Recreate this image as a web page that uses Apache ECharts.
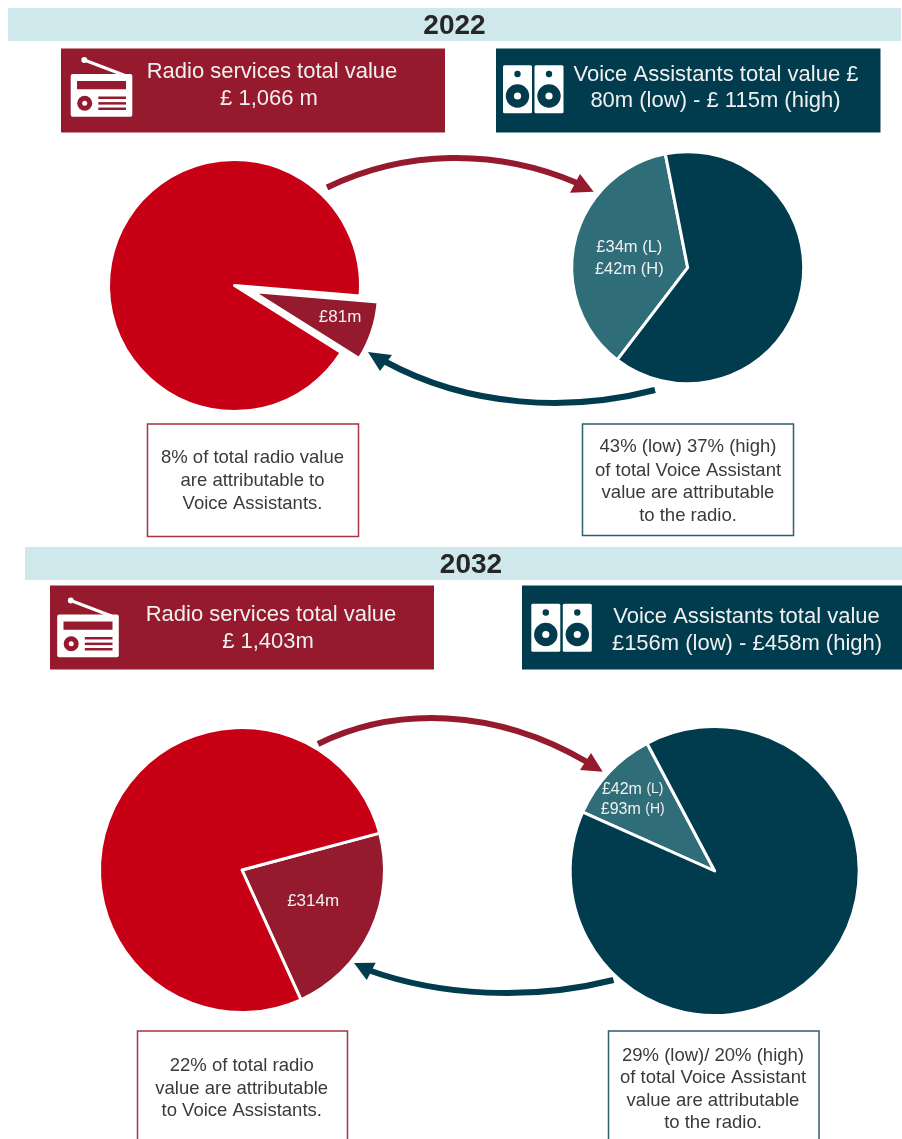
<!DOCTYPE html>
<html>
<head>
<meta charset="utf-8">
<title>Radio and Voice Assistants value, 2022 and 2032</title>
<script src="https://cdn.jsdelivr.net/npm/echarts@6/dist/echarts.min.js"></script>
<style>
  html, body { margin: 0; padding: 0; background: #fff; }
  #chart { width: 902px; height: 1139px; }
</style>
</head>
<body>
<div id="chart"></div>
<script>
// Slice values in £m: the attributable share, then the rest of the total.
const sliceNames = ['Attributable', 'Remainder'];
const radio2022 = [81, 985];
const voice2022 = [42, 73];
const radio2032 = [314, 1089];
const voice2032 = [42, 355];

const radio2022Label = '£81m';
const voice2022Label = '£34m (L)\n£42m (H)';
const radio2032Label = '£314m';
const voice2032Label = '£42m {s|(L)}\n£93m {s|(H)}';

const years = ['2022', '2032'];
const radioHeader2022 = ['Radio services total value', '£ 1,066 m'];
const voiceHeader2022 = ['Voice Assistants total value £', '80m (low) - £ 115m (high)'];
const radioHeader2032 = ['Radio services total value', '£ 1,403m'];
const voiceHeader2032 = ['Voice Assistants total value', '£156m (low) - £458m (high)'];

const radioNote2022 = ['8% of total radio value', 'are attributable to', 'Voice Assistants.'];
const voiceNote2022 = ['43% (low) 37% (high)', 'of total Voice Assistant', 'value are attributable', 'to the radio.'];
const radioNote2032 = ['22% of total radio', 'value are attributable', 'to Voice Assistants.'];
const voiceNote2032 = ['29% (low)/ 20% (high)', 'of total Voice Assistant', 'value are attributable', 'to the radio.'];

const RED = '#c80016', WINE = '#951a2d', NAVY = '#003c4e', TEAL = '#2f6d79', BAND = '#cfe8ec';
const FONT = '"Liberation Sans", Arial, sans-serif';

function pie(values, label, opts) {
  const [a, b] = values;
  return {
    type: 'pie',
    center: opts.center,
    radius: opts.radius,
    startAngle: opts.startAngle,
    clockwise: true,
    animation: false,
    silent: true,
    selectedMode: opts.offset ? 'single' : false,
    selectedOffset: opts.offset || 0,
    labelLayout: { dx: opts.dx || 0, dy: opts.dy || 0 },
    labelLine: { show: false },
    itemStyle: { borderColor: '#fff', borderWidth: 3 },
    data: [
      {
        name: sliceNames[0], value: a, selected: !!opts.offset,
        itemStyle: { color: opts.sliceColor },
        select: { itemStyle: { color: opts.sliceColor, borderColor: '#fff', borderWidth: 3 } },
        label: {
          show: true, position: 'inside', formatter: label, color: '#f1f1f1',
          fontFamily: FONT, fontSize: opts.fontSize, lineHeight: opts.lineHeight,
          rich: { s: { fontSize: 14, fontFamily: FONT, color: '#f1f1f1' } }
        }
      },
      {
        name: sliceNames[1], value: b,
        itemStyle: { color: opts.restColor },
        label: { show: false }
      }
    ]
  };
}

const g = [];
const rect = (x, y, w, h, fill, extra) =>
  g.push(Object.assign({ type: 'rect', shape: { x, y, width: w, height: h }, style: { fill }, silent: true }, extra));
const circle = (cx, cy, r, fill) =>
  g.push({ type: 'circle', shape: { cx, cy, r }, style: { fill }, silent: true });
const text = (str, x, y, font, fill) =>
  g.push({ type: 'text', silent: true, style: { text: str, x, y, font, fill, textAlign: 'center', textVerticalAlign: 'middle' } });

function band(x, y, w, h, year, tx, ty) {
  rect(x, y, w, h, BAND);
  text(year, tx, ty, 'bold 28px ' + FONT, '#262626');
}

function header(x, y, w, h, fill, lines, positions) {
  rect(x, y, w, h, fill);
  lines.forEach((l, i) => text(l, positions[i][0], positions[i][1], '22px ' + FONT, '#f0f0f0'));
}

function note(x, y, w, h, stroke, lines, cx, ys) {
  rect(x, y, w, h, '#fff', { style: { fill: '#fff', stroke, lineWidth: 1.5 } });
  lines.forEach((l, i) => text(l, cx, ys[i], '18.5px ' + FONT, '#3a3a3a'));
}

function radioIcon(dx, dy, bg) {
  g.push({ type: 'line', silent: true, shape: { x1: 84.3 + dx, y1: 60 + dy, x2: 125 + dx, y2: 75.5 + dy }, style: { stroke: '#fff', lineWidth: 3 } });
  circle(84.3 + dx, 60 + dy, 3, '#fff');
  rect(70.7 + dx, 74 + dy, 61.6, 42.7, '#fff', { shape: { x: 70.7 + dx, y: 74 + dy, width: 61.6, height: 42.7, r: 2 } });
  rect(77 + dx, 81 + dy, 49, 8.3, bg);
  circle(84.7 + dx, 103.3 + dy, 7.5, bg);
  circle(84.7 + dx, 103.3 + dy, 2.5, '#fff');
  [97.7, 103.3, 108.7].forEach(y => rect(98.3 + dx, y - 1.2 + dy, 27.7, 2.5, bg));
}

function speakerIcon(dx, dy, bg) {
  [503, 534.5].forEach(x => {
    rect(x + dx, 65.3 + dy, 29, 48, '#fff', { shape: { x: x + dx, y: 65.3 + dy, width: 29, height: 48, r: 1.5 } });
    circle(x + 14.5 + dx, 74 + dy, 3.2, bg);
    circle(x + 14.5 + dx, 96 + dy, 11.7, bg);
    circle(x + 14.5 + dx, 96 + dy, 3.6, '#fff');
  });
}

function arrow(color, c, head) {
  g.push({
    type: 'bezierCurve', silent: true, z: 5,
    shape: { x1: c[0], y1: c[1], cpx1: c[2], cpy1: c[3], cpx2: c[4], cpy2: c[5], x2: c[6], y2: c[7] },
    style: { stroke: color, lineWidth: 6, fill: 'none' }
  });
  g.push({ type: 'polygon', silent: true, z: 5, shape: { points: head }, style: { fill: color } });
}

// First panel
band(8, 8, 893, 33, years[0], 454.5, 26);
header(61, 48.5, 384, 84, WINE, radioHeader2022, [[272, 72], [269, 99]]);
header(496, 48.5, 384.5, 84, NAVY, voiceHeader2022, [[716, 74.5], [715.5, 101]]);
radioIcon(0, 0, WINE);
speakerIcon(0, 0, NAVY);
arrow(WINE, [327, 187.5, 405, 150, 495, 148, 577, 183], [[593.7, 191.7], [570, 192.7], [580, 174]]);
arrow(NAVY, [655, 390, 570, 412, 470, 408, 384, 361], [[368, 352], [392, 355], [380, 371]]);
note(147.5, 424, 211, 112.5, '#a83246', radioNote2022, 252.5, [458, 481, 504]);
note(582.5, 424, 211, 111.5, '#2f5f6d', voiceNote2022, 688, [447, 470.5, 493, 515.5]);

// Second panel
band(25, 547, 877, 33, years[1], 471, 565);
header(50, 585.5, 384, 84, WINE, radioHeader2032, [[271, 615], [268, 642]]);
header(522, 585.5, 380, 84, NAVY, voiceHeader2032, [[746.5, 617], [747, 643.5]]);
radioIcon(-13.5, 540.5, WINE);
speakerIcon(28.3, 538.5, NAVY);
arrow(WINE, [318, 744, 395, 706, 495, 708, 587, 762], [[602.7, 771.7], [580, 770], [591, 753]]);
arrow(NAVY, [613.5, 980, 530, 1001, 440, 996, 368, 970], [[354, 963], [375.7, 962.7], [366.7, 980]]);
note(137.5, 1031, 210, 120, '#a83246', radioNote2032, 241.7, [1066, 1089, 1111]);
note(608.5, 1031, 210.5, 120, '#2f5f6d', voiceNote2032, 713, [1055.5, 1078, 1100.5, 1122.5]);

const chart = echarts.init(document.getElementById('chart'), null, { renderer: 'canvas' });
chart.setOption({
  animation: false,
  backgroundColor: '#fff',
  graphic: { elements: g },
  series: [
    pie(radio2022, radio2022Label, {
      center: [234.5, 285.5], radius: 126, startAngle: -4.8, offset: 19,
      sliceColor: WINE, restColor: RED, fontSize: 17, dx: 25, dy: 5
    }),
    pie(voice2022, voice2022Label, {
      center: [687.7, 267.7], radius: 116, startAngle: 232.6,
      sliceColor: TEAL, restColor: NAVY, fontSize: 16.5, lineHeight: 22, dx: 1, dy: 5
    }),
    pie(radio2032, radio2032Label, {
      center: [242, 870], radius: 142.5, startAngle: 15,
      sliceColor: WINE, restColor: RED, fontSize: 17, dx: 4
    }),
    pie(voice2032, voice2032Label, {
      center: [714.7, 871], radius: 144.5, startAngle: 156,
      sliceColor: TEAL, restColor: NAVY, fontSize: 16, lineHeight: 20, dx: -27, dy: -20
    })
  ]
});
</script>
</body>
</html>
